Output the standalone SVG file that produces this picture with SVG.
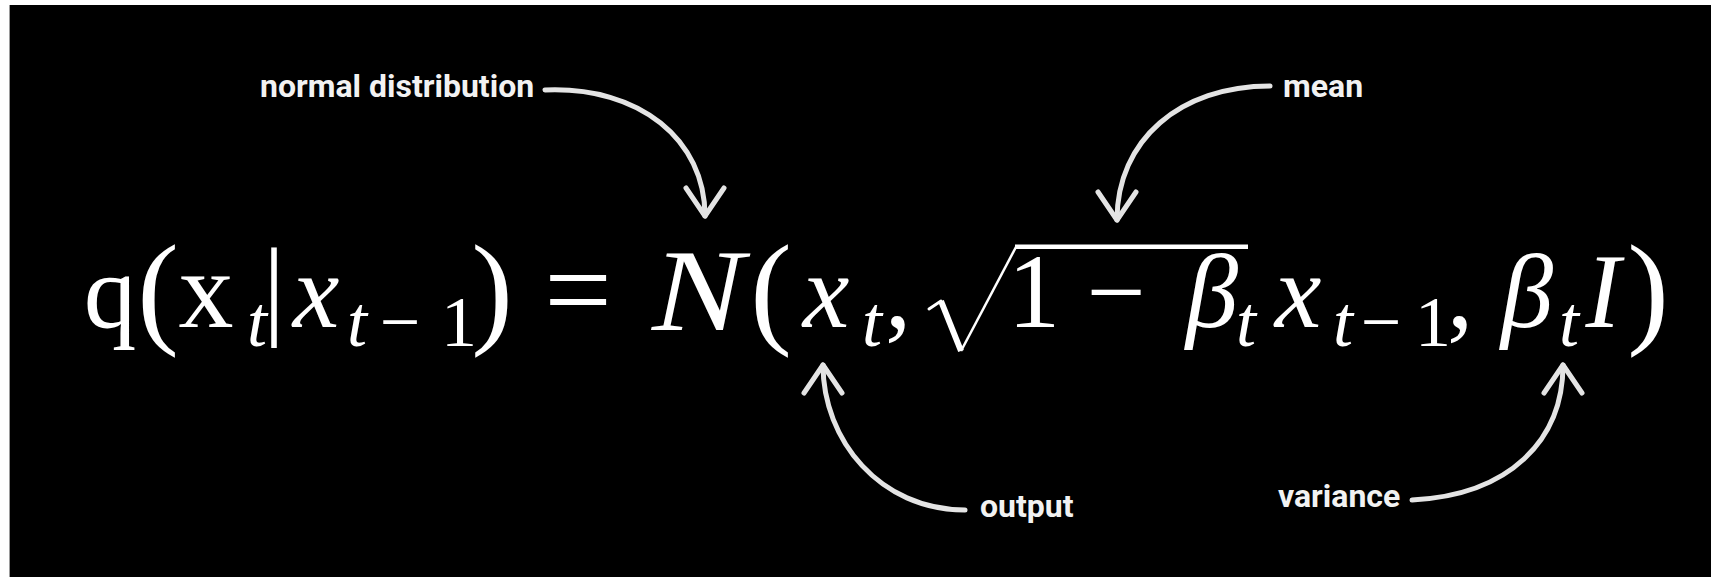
<svg xmlns="http://www.w3.org/2000/svg" width="1711" height="577" viewBox="0 0 1711 577">
  <defs>
    <style>
      .eq { font-family: "Liberation Serif", "Times New Roman", serif; fill: #ffffff; text-anchor: middle; font-size: 105px; }
      .it { font-style: italic; }
      .sub { font-size: 72px; }
      .par { font-size: 125px; }
      .lbl { font-family: Roboto, "Liberation Sans", sans-serif; font-weight: bold; font-size: 32px; fill: #f2f2f2; }
      .conn { fill: none; stroke: #e4e4e4; stroke-width: 5; stroke-linecap: round; marker-end: url(#ah); }
    </style>
    <marker id="ah" markerUnits="userSpaceOnUse" viewBox="-40 -25 50 50" refX="0" refY="0" markerWidth="50" markerHeight="50" orient="auto" overflow="visible">
      <path d="M-28,-19 L0,0 L-28,19" fill="none" stroke="#e4e4e4" stroke-width="5" stroke-linecap="round" stroke-linejoin="round"/>
    </marker>
  </defs>

  <rect x="0" y="0" width="1711" height="577" fill="#ffffff"/>
  <rect x="10" y="5" width="1701" height="572" fill="#000000"/>
  <line x1="9.5" y1="5" x2="9.5" y2="577" stroke="#9a9a9a" stroke-width="1"/>

  <g id="equation">
    <text class="eq"><tspan x="110" y="327">q</tspan><tspan class="par" x="158" y="331">(</tspan><tspan x="206" y="327" style="font-size:110px">x</tspan><tspan class="sub it" x="257" y="346">t</tspan><tspan x="274" y="325" style="font-size:110px">|</tspan><tspan class="it" x="316" y="327">x</tspan><tspan class="sub it" x="357" y="346">t</tspan><tspan class="sub" x="400" y="346">−</tspan><tspan class="sub" x="459" y="346">1</tspan><tspan class="par" x="492" y="331">)</tspan><tspan x="578" y="330" style="font-size:120px">=</tspan></text>
    <text class="eq it" style="font-size:116px" x="698" y="330" textLength="92" lengthAdjust="spacingAndGlyphs">N</text>
    <text class="eq"><tspan class="par" x="771" y="331">(</tspan><tspan class="it" x="826" y="327">x</tspan><tspan class="sub it" x="872" y="346">t</tspan><tspan x="898" y="327">,</tspan><tspan x="1034" y="327">1</tspan><tspan x="1116" y="327">−</tspan><tspan class="it" x="1212" y="327">β</tspan><tspan class="sub it" x="1246" y="346">t</tspan><tspan class="it" x="1298" y="327">x</tspan><tspan class="sub it" x="1343" y="346">t</tspan><tspan class="sub" x="1381" y="346">−</tspan><tspan class="sub" x="1433" y="346">1</tspan><tspan x="1460" y="327">,</tspan><tspan class="it" x="1527" y="327">β</tspan><tspan class="sub it" x="1569" y="346">t</tspan><tspan class="it" x="1603" y="327">I</tspan><tspan class="par" x="1648" y="331">)</tspan></text>
    <path d="M929,309 L941,301" fill="none" stroke="#ffffff" stroke-width="3" stroke-linecap="round"/>
    <path d="M941,301 L961,351" fill="none" stroke="#ffffff" stroke-width="6"/>
    <path d="M961,351 L1016,247" fill="none" stroke="#ffffff" stroke-width="2.5"/>
    <rect x="1015" y="244.5" width="233" height="4.5" fill="#ffffff"/>
  </g>

  <g id="label-normal-distribution"><text class="lbl" x="260" y="97">normal distribution</text></g>
  <g id="label-mean"><text class="lbl" x="1283" y="97">mean</text></g>
  <g id="label-output"><text class="lbl" x="980" y="517">output</text></g>
  <g id="label-variance"><text class="lbl" x="1278" y="507">variance</text></g>

  <g id="connectors">
    <path class="conn" d="M545,90 C640,86 705,140 705,216"/>
    <path class="conn" d="M1270,86 C1180,86 1117,140 1117,220"/>
    <path class="conn" d="M965,510 C880,510 823,440 823,365"/>
    <path class="conn" d="M1412,500 C1510,495 1563,440 1563,365"/>
  </g>
</svg>
